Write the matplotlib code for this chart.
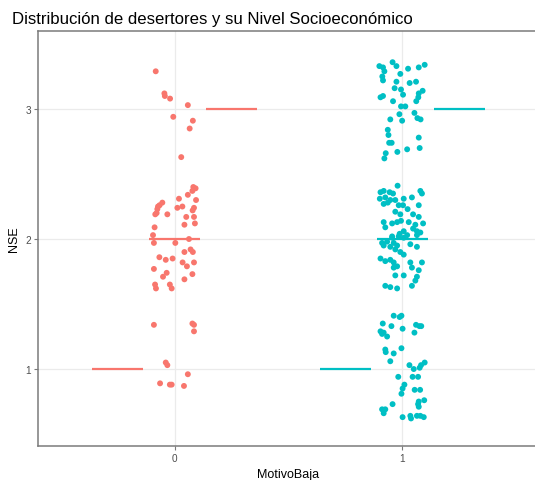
import matplotlib
matplotlib.use("Agg")
import matplotlib.pyplot as plt

plt.rcParams['font.family'] = ['Liberation Sans', 'DejaVu Sans']

categories = ["0", "1"]
colors = ["#F8766D", "#00BFC4"]

# group "0": horizontal jitter offset and NSE value
g0_dx = [-0.083, -0.045, -0.043, -0.020, 0.058, -0.006, 0.080, 0.066, 0.029, 0.082,
         0.092, 0.078, 0.058, 0.094, 0.019, -0.054, -0.066, -0.073, -0.076, 0.012,
         0.034, 0.085, 0.079, -0.079, -0.085, -0.032, 0.051, 0.085, 0.089, 0.043,
         -0.088, -0.095, -0.091, 0.003, 0.063, 0.070, 0.080, 0.043, -0.067, -0.039,
         -0.009, 0.035, 0.085, 0.054, -0.091, -0.035, -0.051, 0.078, 0.043, -0.086,
         -0.082, -0.021, -0.013, -0.091, 0.078, 0.085, 0.085, -0.039, -0.032, 0.058,
         -0.064, -0.021, -0.013, 0.041]
g0_y = [3.29, 3.12, 3.10, 3.08, 3.03, 2.94, 2.91, 2.85, 2.63, 2.40,
        2.39, 2.37, 2.34, 2.30, 2.31, 2.28, 2.26, 2.25, 2.23, 2.24,
        2.25, 2.24, 2.22, 2.20, 2.19, 2.19, 2.17, 2.17, 2.12, 2.11,
        2.09, 2.03, 1.97, 1.97, 2.00, 1.92, 1.90, 1.90, 1.86, 1.84,
        1.85, 1.82, 1.82, 1.79, 1.77, 1.74, 1.71, 1.73, 1.69, 1.65,
        1.62, 1.65, 1.62, 1.34, 1.35, 1.34, 1.29, 1.05, 1.03, 0.96,
        0.89, 0.88, 0.88, 0.87]

# group "1"
g1_dx = [-0.043, -0.101, -0.085, -0.079, -0.026, 0.025, 0.072, 0.098, -0.088, -0.085,
         -0.009, -0.026, 0.032, 0.060, -0.034, -0.006, 0.003, -0.096, -0.085, 0.072,
         0.089, 0.070, 0.061, -0.041, -0.006, 0.013, 0.053, 0.066, 0.080, -0.013,
         -0.053, -0.001, -0.064, -0.061, 0.072, -0.058, -0.047, 0.076, -0.022, 0.021,
         -0.073, -0.079,
         -0.021, -0.096, -0.082, -0.056, -0.041, 0.079, 0.086, 0.042, -0.099, -0.075,
         -0.053, -0.031, 0.006, -0.082, -0.064, -0.016, 0.003, 0.072, 0.023, -0.031,
         -0.009, 0.047, 0.072, -0.082, -0.045, -0.023, -0.006, 0.028, 0.057, 0.091,
         -0.075, 0.047, 0.064, 0.079, 0.006, -0.012, -0.045, 0.021,
         -0.045, -0.016, 0.006, 0.064, -0.089, -0.067, -0.038, -0.082, -0.053, -0.023,
         0.035, 0.064, -0.031, -0.009, 0.006, -0.096, -0.075, -0.053, -0.038, 0.035,
         0.086, -0.038, -0.023, 0.042, 0.072, 0.006, -0.031, 0.064, 0.057, -0.075,
         -0.053, -0.023, 0.042,
         -0.038, -0.012, -0.004, -0.086, -0.048, 0.060, 0.075, 0.083, -0.096, -0.082,
         -0.089, -0.067, 0.001, 0.053, -0.075, -0.073, -0.038, -0.004, -0.053, 0.031,
         0.050, 0.076, 0.082, 0.098, -0.018, 0.045, 0.069, 0.009, 0.001, 0.054,
         0.078, -0.004, 0.072, 0.069, 0.072, -0.043, -0.089, -0.075, -0.082, 0.001,
         0.035, 0.038, 0.064, 0.079, 0.094, 0.096]
g1_y = [3.36, 3.33, 3.32, 3.29, 3.33, 3.31, 3.32, 3.34, 3.25, 3.22,
        3.27, 3.21, 3.20, 3.21, 3.16, 3.15, 3.11, 3.09, 3.10, 3.12,
        3.14, 3.09, 3.06, 3.06, 3.02, 3.02, 2.97, 2.93, 2.92, 2.96,
        2.92, 2.91, 2.84, 2.80, 2.78, 2.74, 2.74, 2.70, 2.67, 2.69,
        2.66, 2.62,
        2.41, 2.36, 2.37, 2.36, 2.35, 2.37, 2.35, 2.32, 2.31, 2.32,
        2.30, 2.30, 2.31, 2.27, 2.28, 2.26, 2.26, 2.26, 2.23, 2.21,
        2.19, 2.19, 2.17, 2.13, 2.12, 2.13, 2.14, 2.13, 2.11, 2.12,
        2.09, 2.08, 2.06, 2.05, 2.06, 2.04, 2.02, 2.03,
        2.01, 2.02, 2.01, 2.03, 1.97, 1.98, 1.97, 1.95, 1.94, 1.95,
        1.96, 1.94, 1.92, 1.90, 1.88, 1.85, 1.83, 1.84, 1.82, 1.82,
        1.82, 1.78, 1.79, 1.78, 1.76, 1.72, 1.72, 1.71, 1.68, 1.64,
        1.63, 1.62, 1.64,
        1.41, 1.40, 1.41, 1.35, 1.33, 1.34, 1.33, 1.33, 1.29, 1.28,
        1.27, 1.25, 1.31, 1.28, 1.15, 1.13, 1.12, 1.16, 1.06, 1.03,
        1.00, 1.01, 1.03, 1.05, 0.94, 0.94, 0.94, 0.88, 0.85, 0.84,
        0.84, 0.81, 0.75, 0.73, 0.71, 0.73, 0.69, 0.69, 0.66, 0.63,
        0.64, 0.62, 0.64, 0.64, 0.63, 0.76]

# summary levels drawn as short horizontal segments for each group
seg_levels = [1, 2, 3]

W, H = 535, 481
fig = plt.figure(figsize=(W / 100, H / 100), dpi=100)
ax = fig.add_axes([38 / W, 1 - 447 / H, (539 - 38) / W, (447 - 32) / H])

groups = [(g0_dx, g0_y), (g1_dx, g1_y)]
for i, (dx, yy) in enumerate(groups):
    xs = [i + d for d in dx]
    ax.scatter(xs, yy, s=18, color=colors[i], edgecolors='none', zorder=3)
    for lv in seg_levels:
        c = i + (lv - 2) * 0.25
        ax.plot([c - 0.112, c + 0.112], [lv, lv], color=colors[i], lw=1.6,
                solid_capstyle='butt', zorder=2)

ax.set_xlim(-0.6, 1.6)
ax.set_ylim(0.408, 3.6)
ax.set_xticks([0, 1])
ax.set_xticklabels(categories)
ax.set_yticks([1, 2, 3])
ax.set_yticklabels(["1", "2", "3"])
ax.grid(True, color='#EBEBEB', lw=0.9, zorder=0)
ax.set_axisbelow(True)
for sp in ax.spines.values():
    sp.set_color('#7a7a7a')
    sp.set_linewidth(1.1)
ax.spines['right'].set_visible(False)
ax.tick_params(axis='both', length=3, width=0.8, color='#7a7a7a',
               labelcolor='#4D4D4D', labelsize=7.2, pad=2)

ax.set_xlabel("MotivoBaja", fontsize=9, color='black', labelpad=4)
ax.set_ylabel("NSE", fontsize=9, color='black', labelpad=4)

fig.text(12 / W, 1 - 24 / H, "Distribución de desertores y su Nivel Socioeconómico",
         fontsize=12.1, color='black', ha='left', va='baseline')

fig.savefig("out.png", dpi=100)
